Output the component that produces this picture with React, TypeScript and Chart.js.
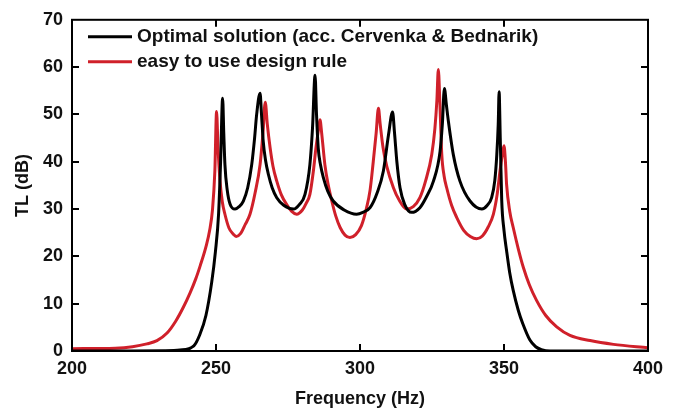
import React, { useEffect, useRef } from "react";
import { Chart, registerables } from "chart.js";

Chart.register(...registerables);

const FONT = "Arial, 'Liberation Sans', Helvetica, sans-serif";

// Axis ranges / ticks
const xRange = [200, 400];
const xStep = 50;
const yRange = [0, 70];
const yStep = 10;

const xTitle = "Frequency (Hz)";
const yTitle = "TL (dB)";

const seriesLabels = [
  "Optimal solution (acc. Cervenka & Bednarik)",
  "easy to use design rule",
];
const seriesColors = ["#000000", "#d0202a"];

// [frequency (Hz), TL (dB)]
const blackPoints: [number, number][] = [
  [200, 0], [220, 0], [232, 0.05], [237.5, 0.2], [242.3, 1.1], [244.4, 3.5],
  [246.5, 7.5], [248.5, 14.5], [249.8, 21], [250.9, 29], [251.6, 40], [252.3, 53.4],
  [252.7, 46], [253.1, 39.4], [253.9, 34], [254.9, 31], [256.6, 30], [258, 30.5],
  [259.5, 31.7], [261, 34.5], [262.4, 39.4], [263.4, 45], [264.1, 49.9], [265.3, 54.5],
  [265.8, 50], [266.4, 44.3], [267.2, 40.3], [268.2, 37.3], [269.5, 34.5], [271.1, 32.4],
  [273.5, 30.8], [276.9, 30], [279, 31], [280.9, 33.1], [282.6, 39.4], [283.5, 47],
  [284.4, 58.3], [284.9, 50], [285.5, 42.9], [286.3, 39.3], [287.3, 36.6], [288.8, 33.8],
  [290.7, 31.7], [294.5, 29.8], [298.8, 28.9], [301, 29.3], [303.5, 30.3], [306, 33.5],
  [308.1, 38], [309.9, 45.7], [311.3, 50.5], [312, 46], [312.8, 40], [313.9, 34.5],
  [315.5, 31], [317.9, 29.3], [320.8, 30.3], [323, 32.5], [325.5, 35.9], [327.8, 42.2],
  [328.6, 48], [329.3, 55.5], [330, 52], [330.7, 48.5], [332.4, 41.5], [334.7, 35.9],
  [338.2, 31.7], [342.3, 30], [344.2, 30.8], [345.7, 32.4], [346.8, 36], [347.5, 41.5],
  [348, 48], [348.3, 54.8], [348.7, 45], [349.2, 32], [350, 25.5], [350.9, 21.2],
  [352, 16.5], [353.2, 12.8], [355, 8.5], [356.5, 5.8], [359, 2.3], [361, 0.9],
  [363, 0.3], [366, 0], [380, 0], [400, 0],
];

const redPoints: [number, number][] = [
  [200, 0.5], [215, 0.6], [221, 0.9], [226, 1.5], [229.5, 2.2], [233, 3.8],
  [236, 6.3], [238.7, 9.3], [241, 12.3], [243, 15.3], [244.5, 18], [246.5, 22],
  [247.8, 25.5], [248.8, 30], [249.6, 38], [250.2, 50.6], [250.7, 43], [251.4, 35.9],
  [252.2, 31.5], [253.1, 28.9], [254.5, 26], [256, 24.7], [257, 24.2], [258.5, 24.8],
  [260.2, 26.8], [261.8, 28.9], [263.6, 33.5], [265.3, 39.4], [266.3, 46], [267.1, 52.6],
  [267.8, 48], [268.8, 42.9], [269.8, 39], [271.1, 35.9], [272.7, 33], [274.5, 31],
  [276.3, 29.5], [278, 28.9], [280, 29.8], [281.3, 31.2], [282.6, 33.1], [283.8, 38],
  [284.7, 42.9], [285.5, 46.5], [286.1, 48.9], [286.7, 46], [287.8, 39.4], [289, 35],
  [290.2, 31.7], [291.6, 28.5], [293.1, 26.1], [294.8, 24.5], [296.5, 24], [298.5, 24.6],
  [300.5, 26.5], [302.3, 30.3], [303.5, 34], [304.6, 40], [305.6, 46], [306.4, 51.3],
  [307, 48], [308, 43], [309.3, 39], [311.6, 34.5], [313.5, 32], [316.2, 30],
  [318.5, 30.5], [320.8, 32.4], [322.8, 36], [324.9, 41.5], [326, 47], [326.7, 53],
  [327.2, 59.5], [327.7, 53], [328.4, 41.5], [329.2, 37], [330.1, 34.5], [331.8, 30.8],
  [333.6, 28.2], [336, 25.5], [338.3, 24.2], [340.5, 23.7], [342.5, 24.3], [344.5, 26.2],
  [346.3, 28.9], [347.6, 33], [348.6, 38], [349.4, 41.5], [350, 43.4], [350.5, 40],
  [350.9, 35.2], [352, 29.5], [353.2, 26.1], [355, 21.5], [356.7, 17.7], [358.8, 14],
  [361.3, 10.7], [364.5, 7.5], [368.3, 5.1], [372.9, 3.3], [379.9, 2.2], [388, 1.4],
  [400, 0.7],
];

const seriesPoints = [blackPoints, redPoints];

const framePlugin = {
  id: "frameTicksLegend",
  afterDatasetsDraw(chart: any) {
    const { ctx, chartArea, scales } = chart;
    const { left, right, top, bottom } = chartArea;
    const xs = scales.x;
    const ys = scales.y;
    const L = 7;
    ctx.save();
    ctx.strokeStyle = "#000";
    ctx.lineWidth = 2;
    ctx.strokeRect(left, top, right - left, bottom - top);
    ctx.beginPath();
    xs.ticks.forEach((t: any) => {
      const px = Math.round(xs.getPixelForValue(t.value));
      if (px <= left + 2 || px >= right - 2) return;
      ctx.moveTo(px, bottom);
      ctx.lineTo(px, bottom - L);
      ctx.moveTo(px, top);
      ctx.lineTo(px, top + L);
    });
    ys.ticks.forEach((t: any) => {
      const py = Math.round(ys.getPixelForValue(t.value));
      if (py <= top + 2 || py >= bottom - 2) return;
      ctx.moveTo(left, py);
      ctx.lineTo(left + L, py);
      ctx.moveTo(right, py);
      ctx.lineTo(right - L, py);
    });
    ctx.stroke();

    // legend inside the plot
    const lx0 = left + 16;
    const lx1 = left + 60;
    const tx = left + 65;
    const rowY = [top + 17, top + 42];
    ctx.font = `bold 19px ${FONT}`;
    ctx.textBaseline = "middle";
    ctx.textAlign = "left";
    chart.data.datasets.forEach((ds: any, i: number) => {
      const yy = rowY[i];
      ctx.strokeStyle = ds.borderColor;
      ctx.lineWidth = 3;
      ctx.beginPath();
      ctx.moveTo(lx0, yy);
      ctx.lineTo(lx1, yy);
      ctx.stroke();
      ctx.fillStyle = "#111";
      ctx.fillText(ds.label, tx, yy);
    });
    ctx.restore();
  },
};

export default function App() {
  const ref = useRef<HTMLCanvasElement | null>(null);

  useEffect(() => {
    document.body.style.margin = "0";
    const canvas = ref.current;
    if (!canvas) return;
    const tickFont = { family: FONT, size: 18, weight: "bold" as const };
    const chart = new Chart(canvas, {
      type: "line",
      data: {
        datasets: seriesPoints.map((pts, i) => ({
          label: seriesLabels[i],
          data: pts.map(([x, y]) => ({ x, y })),
          borderColor: seriesColors[i],
          backgroundColor: seriesColors[i],
          borderWidth: 3,
          pointRadius: 0,
          fill: false,
          cubicInterpolationMode: "monotone" as const,
        })),
      },
      options: {
        animation: false,
        responsive: false,
        maintainAspectRatio: false,
        layout: { padding: { top: 18, right: 31, left: 0, bottom: 0 } },
        plugins: { legend: { display: false }, tooltip: { enabled: false } },
        scales: {
          x: {
            type: "linear",
            min: xRange[0],
            max: xRange[1],
            ticks: { stepSize: xStep, color: "#111", font: tickFont, padding: 7, maxRotation: 0 },
            grid: { display: false, drawTicks: false },
            border: { display: false },
            title: {
              display: true,
              text: xTitle,
              color: "#111",
              font: tickFont,
              padding: { top: 0, bottom: 2 },
            },
            afterFit: (s: any) => {
              s.height = 61;
            },
          },
          y: {
            type: "linear",
            min: yRange[0],
            max: yRange[1],
            ticks: { stepSize: yStep, color: "#111", font: tickFont, padding: 9 },
            grid: { display: false, drawTicks: false },
            border: { display: false },
            title: {
              display: true,
              text: yTitle,
              color: "#111",
              font: tickFont,
              padding: { top: 12, bottom: 0 },
            },
            afterFit: (s: any) => {
              s.width = 72;
            },
          },
        },
      },
      plugins: [framePlugin],
    });
    return () => chart.destroy();
  }, []);

  return (
    <div style={{ width: 679, height: 412, background: "#fff" }}>
      <canvas ref={ref} width={679} height={412} style={{ display: "block" }} />
    </div>
  );
}
